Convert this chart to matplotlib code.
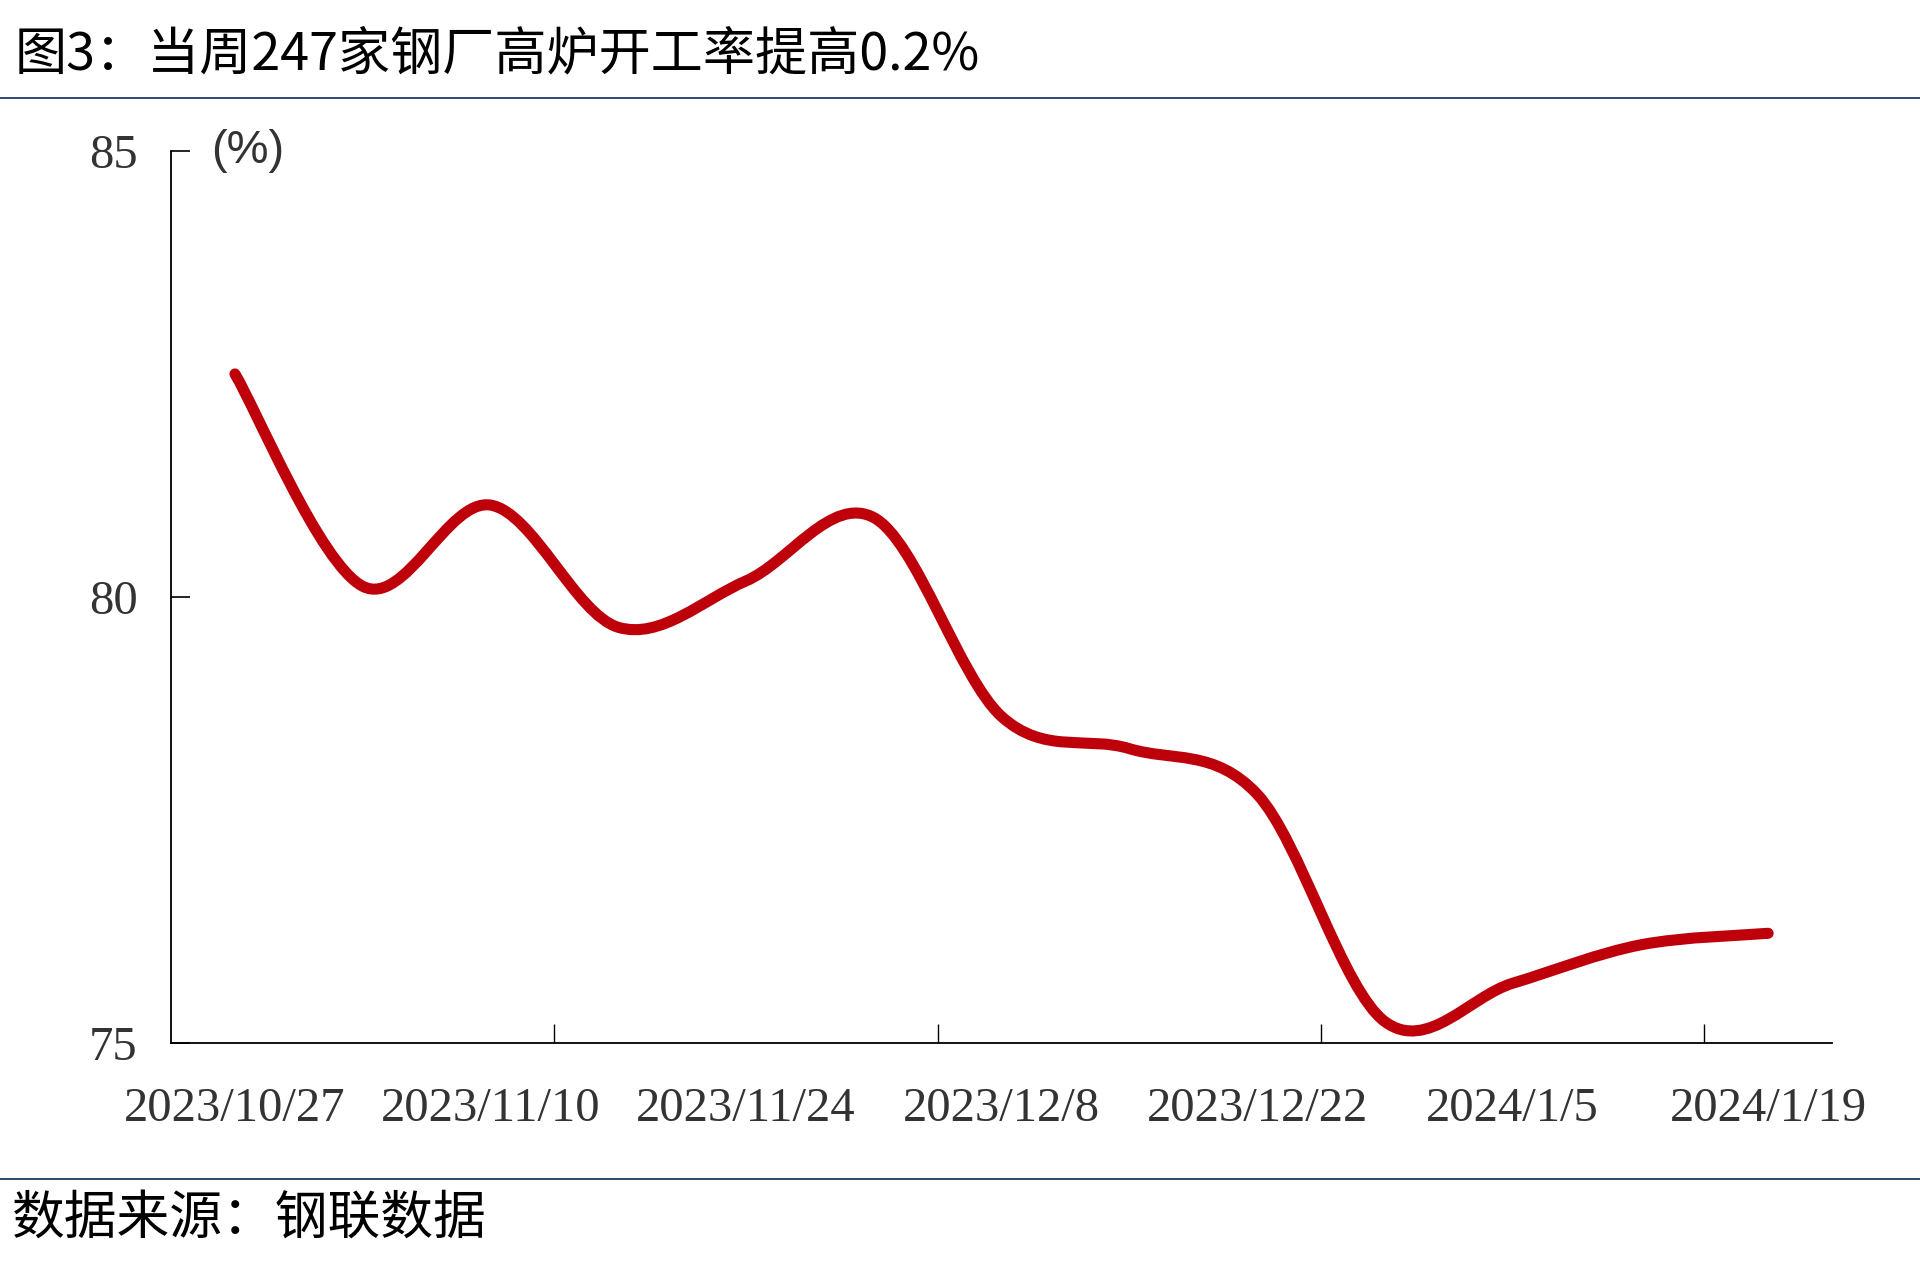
import matplotlib
matplotlib.use('Agg')
import matplotlib.pyplot as plt
from matplotlib.path import Path
from matplotlib.patches import PathPatch
from matplotlib.lines import Line2D

# weekly blast-furnace utilisation of 247 steel mills (%)
dates = ['2023/10/27', '2023/11/3', '2023/11/10', '2023/11/17', '2023/11/24',
         '2023/12/1', '2023/12/8', '2023/12/15', '2023/12/22', '2023/12/29',
         '2024/1/5', '2024/1/12', '2024/1/19']
rate = [82.50, 80.12, 81.03, 79.66, 80.18, 80.89, 78.66,
        78.30, 77.79, 75.24, 75.67, 76.10, 76.23]
yticks = [75, 80, 85]

RED = '#BE000A'
NAVY = '#1F3A68'
GREY = '#333333'

CJK = ['Noto Sans CJK SC', 'DejaVu Sans']


def smooth_path(x, y):
    """Excel-like smoothed line: Catmull-Rom segments as cubic Beziers."""
    n = len(x)
    verts = [(x[0], y[0])]
    codes = [Path.MOVETO]
    for i in range(n - 1):
        x0, y0 = (x[i - 1], y[i - 1]) if i > 0 else (x[i], y[i])
        x3, y3 = (x[i + 2], y[i + 2]) if i + 2 < n else (x[i + 1], y[i + 1])
        c1 = (x[i] + (x[i + 1] - x0) / 6, y[i] + (y[i + 1] - y0) / 6)
        c2 = (x[i + 1] - (x3 - x[i]) / 6, y[i + 1] - (y3 - y[i]) / 6)
        verts += [c1, c2, (x[i + 1], y[i + 1])]
        codes += [Path.CURVE4] * 3
    return Path(verts, codes)


fig = plt.figure(figsize=(19.2, 12.79), dpi=100)
ax = fig.add_axes([0.0891, 0.1845, 0.8651, 0.6975])

xs = list(range(len(dates)))
ax.add_patch(PathPatch(smooth_path(xs, rate), facecolor='none',
                       edgecolor=RED, lw=8, capstyle='round',
                       joinstyle='round'))

ax.set_xlim(-0.5, len(dates) - 0.5)
ax.set_ylim(yticks[0], yticks[-1])

ax.set_xticks(xs[::2])
ax.set_xticklabels(dates[::2])
ax.set_xticks([2.5, 5.5, 8.5, 11.5], minor=True)
ax.tick_params(axis='x', which='major', length=0, pad=32)
ax.tick_params(axis='x', which='minor', direction='in', length=14, width=1)

ax.set_yticks(yticks)
ax.tick_params(axis='y', direction='in', length=14, width=1.2, pad=24)

for lab in ax.get_xticklabels() + ax.get_yticklabels():
    lab.set_fontfamily('Liberation Serif')
    lab.set_fontsize(35)
    lab.set_color(GREY)

for s in ['top', 'right']:
    ax.spines[s].set_visible(False)
for s in ['left', 'bottom']:
    ax.spines[s].set_linewidth(1.3)
    ax.spines[s].set_color('black')

fig.text(0.1099, 0.882, '(%)', family='Liberation Sans', fontsize=34,
         color=GREY, va='center', ha='left')

fig.text(0.0078, 0.957, '图3：当周247家钢厂高炉开工率提高0.2%',
         family=CJK, fontsize=37.5, va='center', ha='left')
fig.text(0.0062, 0.0477, '数据来源：钢联数据',
         family=CJK, fontsize=38, va='center', ha='left')

fig.add_artist(Line2D([0, 1], [1 - 98 / 1279] * 2, color=NAVY, lw=1.3))
fig.add_artist(Line2D([0, 1], [1 - 1179 / 1279] * 2, color=NAVY, lw=1.3))

fig.savefig('out.png', dpi=100, facecolor='white')
